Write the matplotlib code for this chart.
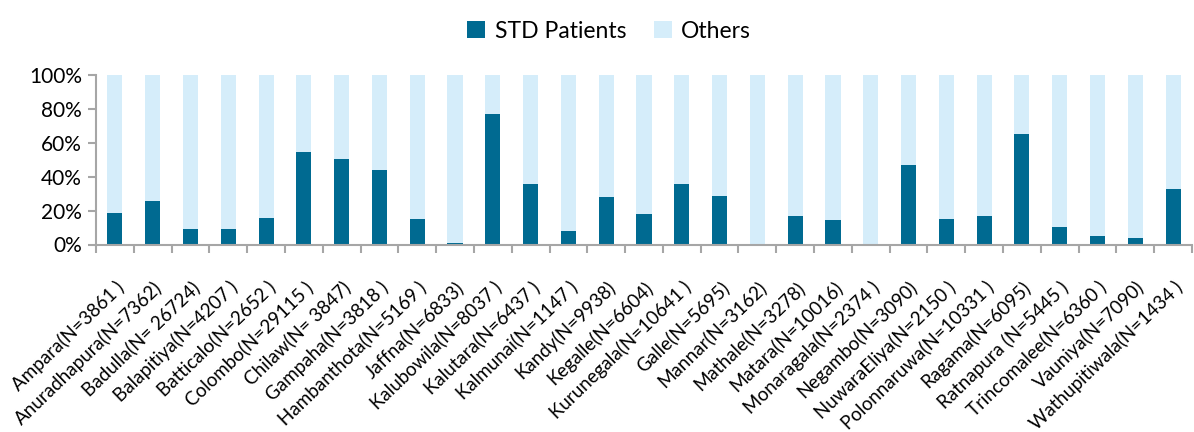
import numpy as np
import matplotlib
matplotlib.use("Agg")
import matplotlib.pyplot as plt
from matplotlib.ticker import PercentFormatter, FixedLocator
from matplotlib.transforms import ScaledTranslation

plt.rcParams["font.family"] = ["Lato", "DejaVu Sans"]

centres = [
    "Ampara(N=3861 )", "Anuradhapura(N=7362)", "Badulla(N= 26724)",
    "Balapitiya(N=4207 )", "Batticalo(N=2652 )", "Colombo(N=29115 )",
    "Chilaw(N= 3847)", "Gampaha(N=3818 )", "Hambanthota(N=5169 )",
    "Jaffna(N=6833)", "Kalubowila(N=8037 )", "Kalutara(N=6437 )",
    "Kalmunai(N=1147 )", "Kandy(N=9938)", "Kegalle(N=6604)",
    "Kurunegala(N=10641 )", "Galle(N=5695)", "Mannar(N=3162)",
    "Mathale(N=3278)", "Matara(N=10016)", "Monaragala(N=2374 )",
    "Negambo(N=3090)", "NuwaraEliya(N=2150 )", "Polonnaruwa(N=10331 )",
    "Ragama(N=6095)", "Ratnapura (N=5445 )", "Trincomalee(N=6360 )",
    "Vauniya(N=7090)", "Wathupitiwala(N=1434 )",
]

# share of STD patients (%)
std_patients = [
    18.5, 25.9, 9.2, 9.2, 15.7, 54.2, 50.1, 44.0, 14.9, 0.8,
    77.0, 35.4, 7.9, 27.9, 17.7, 35.4, 28.3, 0.4, 16.9, 14.3,
    0.2, 46.8, 15.3, 16.9, 65.2, 10.4, 5.1, 3.9, 32.4,
]
others = [100 - v for v in std_patients]

dark = "#006A91"
light = "#D5EDFA"
grey = "#A6A6A6"

fig = plt.figure(figsize=(11.94, 4.32), dpi=100)
ax = fig.add_axes([96 / 1194, 1 - 244.5 / 432, 1096 / 1194, (244.5 - 74.7) / 432])

x = np.arange(len(centres))
std = np.array(std_patients) / 100
oth = np.array(others) / 100
ax.bar(x, std, width=0.4, color=dark, label="STD Patients")
ax.bar(x, oth, width=0.4, bottom=std, color=light, label="Others")

ax.set_xlim(-0.5, len(centres) - 0.5)
ax.set_ylim(0, 1)
ax.set_yticks(np.arange(0, 1.01, 0.2))
ax.yaxis.set_major_formatter(PercentFormatter(1.0, decimals=0))

ax.set_xticks(x)
ax.set_xticklabels(centres, rotation=44, ha="right", rotation_mode="anchor", fontsize=13.5)
# nudge labels a little to the right, like the original
shift = ScaledTranslation(4 / 100, 0, fig.dpi_scale_trans)
for lbl in ax.get_xticklabels():
    lbl.set_transform(lbl.get_transform() + shift)
ax.xaxis.set_minor_locator(FixedLocator(np.arange(-0.5, len(centres), 1)))
ax.tick_params(axis="x", which="major", length=0, pad=24)
ax.tick_params(axis="x", which="minor", length=6, color=grey, width=1.5)
ax.tick_params(axis="y", length=6, color=grey, width=1.5, labelsize=15, pad=4)

for side in ["top", "right"]:
    ax.spines[side].set_visible(False)
for side in ["left", "bottom"]:
    ax.spines[side].set_color(grey)
    ax.spines[side].set_linewidth(1.5)

fig.legend(loc="upper center", bbox_to_anchor=(0.51, 1.0), ncol=2, frameon=False,
           fontsize=16.5, handlelength=0.8, handleheight=0.8, columnspacing=1.2,
           handletextpad=0.4)

fig.savefig("out.png", dpi=100)
